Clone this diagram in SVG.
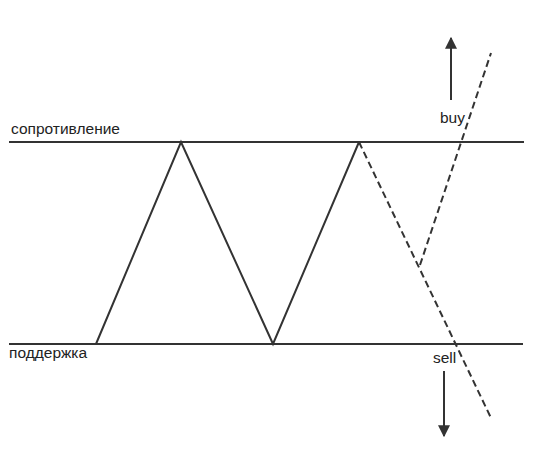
<svg xmlns="http://www.w3.org/2000/svg" width="550" height="450" viewBox="0 0 550 450">
<style>
.ln{stroke:#333;stroke-width:2;fill:none}
.ds{stroke:#333;stroke-width:2;fill:none;stroke-dasharray:7,4}
.t{font-family:"Liberation Sans",Arial,sans-serif;font-size:15.5px;fill:#222}
</style>
<defs>
<marker id="ah" viewBox="0 0 10 10" refX="9" refY="5" markerWidth="6" markerHeight="7" orient="auto" markerUnits="strokeWidth">
<path d="M0,0 L10,5 L0,10 Z" fill="#333"/>
</marker>
</defs>
<rect width="550" height="450" fill="#fff"/>
<g id="levels">
<line class="ln" x1="9" y1="142" x2="524" y2="142"/>
<line class="ln" x1="9" y1="344" x2="523" y2="344"/>
<text class="t" x="11" y="134">сопротивление</text>
<text class="t" x="9" y="358">поддержка</text>
</g>
<g id="connectors">
<polyline class="ln" points="96,344 181,142 273,344 359,142"/>
<line class="ds" x1="359" y1="142" x2="491" y2="418"/>
<line class="ds" x1="420" y1="265" x2="491" y2="53"/>
<line class="ln" x1="451" y1="100" x2="451" y2="38" marker-end="url(#ah)"/>
<line class="ln" x1="444" y1="371" x2="444" y2="436" marker-end="url(#ah)"/>
</g>
<g id="labels">
<text class="t" x="440" y="123">buy</text>
<text class="t" x="433" y="363">sell</text>
</g>
</svg>
